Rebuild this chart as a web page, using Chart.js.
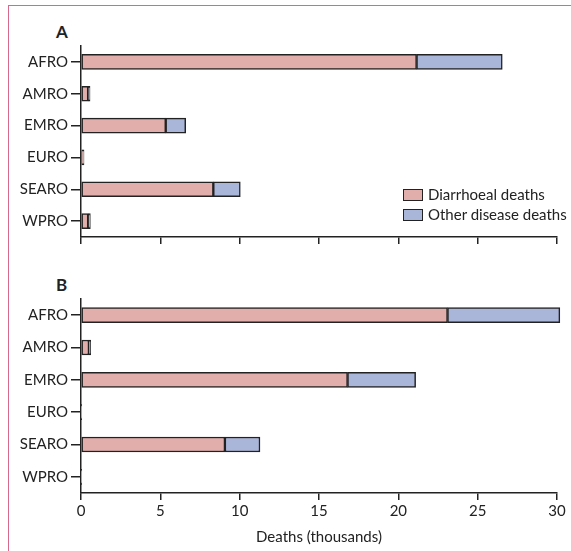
<!DOCTYPE html>
<html>
<head>
<meta charset="utf-8">
<script src="https://cdn.jsdelivr.net/npm/chart.js@4"></script>
<style>
  html, body { margin: 0; padding: 0; background: #fff; }
  #wrap { position: relative; width: 571px; height: 551px; overflow: hidden; font-family: Lato, sans-serif; color: #222; }
  #frame { position: absolute; left: 8px; top: 5px; width: 600px; height: 600px; border-top: 1.5px solid #d6698c; border-left: 1.5px solid #d6698c; }
  .panel { position: absolute; font-weight: bold; font-size: 17px; }
  #boxA { position: absolute; left: 0; top: 0; width: 571px; height: 260px; }
  #boxB { position: absolute; left: 0; top: 260px; width: 571px; height: 291px; }
  .legend { position: absolute; left: 403px; font-size: 15px; line-height: 20px; }
  .legend span.sw { display: inline-block; width: 18px; height: 10px; border: 1.5px solid #222; vertical-align: -1px; margin-right: 5px; }
</style>
</head>
<body>
<div id="wrap">
  <div id="frame"></div>
  <div class="panel" style="left:56px; top:21px;">A</div>
  <div class="panel" style="left:56px; top:274px;">B</div>
  <div id="boxA"><canvas id="chartA"></canvas></div>
  <div id="boxB"><canvas id="chartB"></canvas></div>
  <div class="legend" style="top:184px;">
    <div><span class="sw" style="background:#e2aeab"></span>Diarrhoeal deaths</div>
    <div><span class="sw" style="background:#aab5da"></span>Other disease deaths</div>
  </div>
</div>
<script>
// regions and death counts (thousands)
const regions = ['AFRO', 'AMRO', 'EMRO', 'EURO', 'SEARO', 'WPRO'];

const diarrhoealA = [21.15, 0.45, 5.34, 0.12, 8.34, 0.45];
const otherA      = [5.40, 0.12, 1.26, 0.07, 1.70, 0.14];

const diarrhoealB = [23.10, 0.50, 16.80, 0.03, 9.07, 0.03];
const otherB      = [7.08, 0.11, 4.29, 0.01, 2.21, 0.01];

const xMin = 0, xMax = 30, xStep = 5;
const axisTitle = 'Deaths (thousands)';

const pink = '#e2aeab';
const blue = '#aab5da';
const ink = '#222';

Chart.defaults.font.family = 'Lato, sans-serif';
Chart.defaults.font.size = 15;
Chart.defaults.color = ink;

function makeChart(id, diarr, other, showLabels, xHeight, padTop) {
    const ctx = document.getElementById(id).getContext('2d');
    return new Chart(ctx, {
        type: 'bar',
        data: {
            labels: regions,
            datasets: [{
                label: 'Diarrhoeal deaths',
                data: diarr,
                backgroundColor: pink,
                borderColor: ink,
                borderWidth: 1.5,
                borderSkipped: false,
                barThickness: 15,
                clip: false
            }, {
                label: 'Other disease deaths',
                data: other,
                backgroundColor: blue,
                borderColor: ink,
                borderWidth: 1.5,
                borderSkipped: false,
                barThickness: 15,
                clip: false
            }]
        },
        options: {
            indexAxis: 'y',
            responsive: true,
            maintainAspectRatio: false,
            animation: false,
            layout: { padding: { top: padTop, right: 14, left: 0, bottom: 0 } },
            plugins: { legend: { display: false }, tooltip: { enabled: false } },
            scales: {
                x: {
                    stacked: true,
                    min: xMin,
                    max: xMax,
                    afterFit: function(scale) { scale.height = xHeight; },
                    border: { color: ink, width: 1.5 },
                    grid: { drawOnChartArea: false, drawTicks: true, tickLength: 7, color: ink, lineWidth: 1.5 },
                    ticks: {
                        stepSize: xStep,
                        padding: 2,
                        callback: function(v) { return showLabels ? v : ''; }
                    },
                    title: { display: showLabels, text: axisTitle, padding: { top: 4, bottom: 5 } }
                },
                y: {
                    stacked: true,
                    afterFit: function(scale) { scale.width = 81; },
                    border: { color: ink, width: 1.5 },
                    grid: { offset: false, drawOnChartArea: false, tickLength: 10, color: ink, lineWidth: 1.5 },
                    ticks: { padding: 3 }
                }
            }
        }
    });
}

makeChart('chartA', diarrhoealA, otherA, false, 23, 46);
makeChart('chartB', diarrhoealB, otherB, true, 58, 39);
</script>
</body>
</html>
